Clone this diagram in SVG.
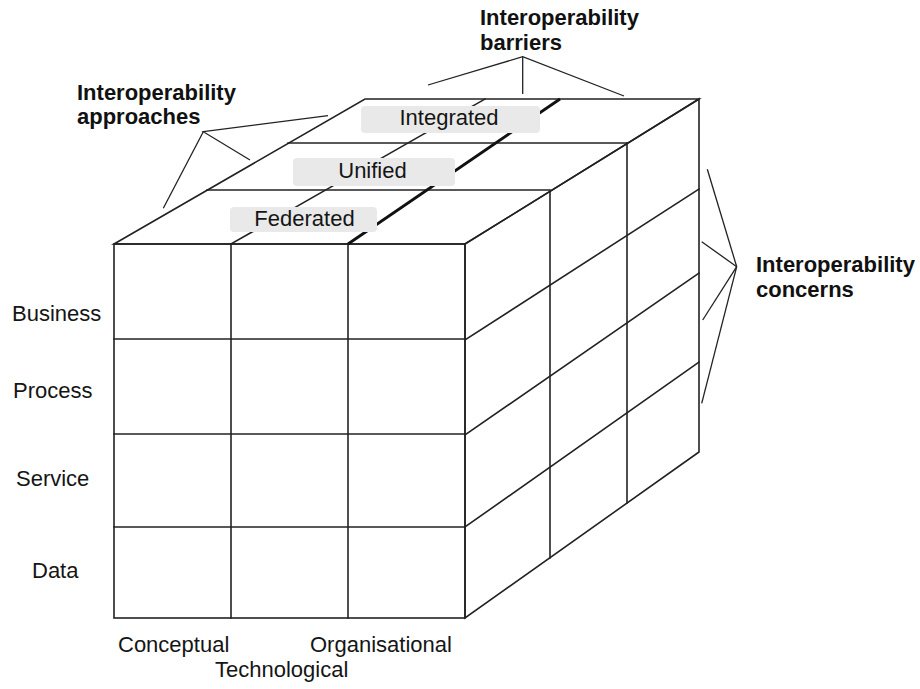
<svg xmlns="http://www.w3.org/2000/svg" width="920" height="689" viewBox="0 0 920 689">
<style>
.e{stroke:#222;stroke-width:1.6;fill:none;stroke-linecap:square}
.thick{stroke:#111;stroke-width:2.8;fill:none}
.br{stroke:#222;stroke-width:1.3;fill:none}
.t{font-family:"Liberation Sans",Arial,sans-serif;font-size:22px;fill:#151515}
.b{font-family:"Liberation Sans",Arial,sans-serif;font-size:22px;font-weight:bold;fill:#111}
.box{fill:#e9e9e9}
</style>
<rect width="920" height="689" fill="#fff"/>
<g id="cube">
  <g id="front-face">
    <rect class="e" x="114" y="244" width="351" height="374"/>
    <line class="e" x1="231" y1="244" x2="231" y2="618"/>
    <line class="e" x1="348" y1="244" x2="348" y2="618"/>
    <line class="e" x1="114" y1="339" x2="465" y2="339"/>
    <line class="e" x1="114" y1="434" x2="465" y2="434"/>
    <line class="e" x1="114" y1="527" x2="465" y2="527"/>
  </g>
  <g id="right-face">
    <polygon class="e" points="465,244 699,99 699,452 465,618"/>
    <line class="e" x1="550" y1="191" x2="550" y2="558"/>
    <line class="e" x1="627" y1="143" x2="627" y2="503"/>
    <line class="e" x1="465" y1="340" x2="699" y2="189"/>
    <line class="e" x1="465" y1="435" x2="699" y2="273"/>
    <line class="e" x1="465" y1="527" x2="699" y2="362"/>
  </g>
  <g id="top-face">
    <polygon class="e" points="114,244 365,99 699,99 465,244"/>
    <line class="e" x1="288" y1="143" x2="627" y2="143"/>
    <line class="e" x1="207" y1="190" x2="550" y2="190"/>
    <line class="e" x1="231" y1="244" x2="485" y2="99"/>
    <line class="thick" x1="348" y1="244" x2="560" y2="99"/>
  </g>
</g>
<g id="approach-labels">
  <g id="integrated">
    <rect class="box" x="361" y="106" width="179" height="27" rx="4"/>
    <text class="t" x="449" y="125" text-anchor="middle">Integrated</text>
  </g>
  <g id="unified">
    <rect class="box" x="293" y="158" width="162" height="28" rx="4"/>
    <text class="t" x="372.5" y="178" text-anchor="middle">Unified</text>
  </g>
  <g id="federated">
    <rect class="box" x="230" y="207" width="147" height="25" rx="4"/>
    <text class="t" x="304.5" y="226" text-anchor="middle">Federated</text>
  </g>
</g>
<g id="concern-labels">
  <text class="t" x="12" y="321">Business</text>
  <text class="t" x="13" y="398">Process</text>
  <text class="t" x="16" y="486">Service</text>
  <text class="t" x="32" y="578">Data</text>
</g>
<g id="barrier-labels">
  <text class="t" x="118" y="652">Conceptual</text>
  <text class="t" x="310" y="652">Organisational</text>
  <text class="t" x="215" y="677">Technological</text>
</g>
<g id="connectors">
  <polyline class="br" points="428,85 522.7,56.7 624,96"/>
  <line class="br" x1="522.7" y1="56.7" x2="522.7" y2="94"/>
  <polyline class="br" points="328,115.7 203.3,131.7 250,160"/>
  <line class="br" x1="203.3" y1="131.7" x2="163.3" y2="208.3"/>
  <line class="br" x1="736.7" y1="266.7" x2="707.3" y2="169.3"/>
  <line class="br" x1="736.7" y1="266.7" x2="701.7" y2="241.7"/>
  <line class="br" x1="736.7" y1="266.7" x2="702.7" y2="320"/>
  <line class="br" x1="736.7" y1="266.7" x2="701.7" y2="403.3"/>
</g>
<g id="titles">
  <g id="title-barriers">
    <text class="b" x="480" y="25">Interoperability</text>
    <text class="b" x="480" y="50">barriers</text>
  </g>
  <g id="title-approaches">
    <text class="b" x="77" y="100">Interoperability</text>
    <text class="b" x="77" y="124">approaches</text>
  </g>
  <g id="title-concerns">
    <text class="b" x="756" y="272">Interoperability</text>
    <text class="b" x="756" y="297">concerns</text>
  </g>
</g>
</svg>
